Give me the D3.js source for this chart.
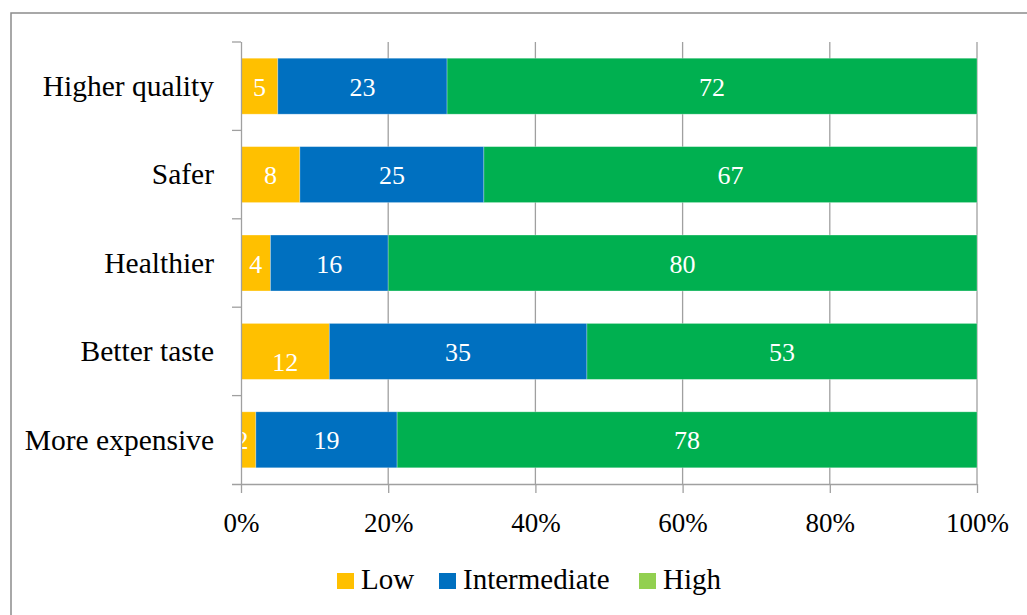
<!DOCTYPE html>
<html>
<head>
<meta charset="utf-8">
<script src="https://cdn.jsdelivr.net/npm/d3@7"></script>
<style>
  html, body { margin: 0; padding: 0; background: #fff; }
  svg { display: block; }
  text { font-family: "Liberation Serif", "Times New Roman", serif; }
</style>
</head>
<body>
<svg id="chart" width="1027" height="615"></svg>
<script>
// Share of respondents rating each attribute (percent)
const categories = ["Higher quality", "Safer", "Healthier", "Better taste", "More expensive"];
const seriesNames = ["Low", "Intermediate", "High"];
const lowValues = [5, 8, 4, 12, 2];
const intermediateValues = [23, 25, 16, 35, 19];
const highValues = [72, 67, 80, 53, 78];
const tickValues = [0, 0.2, 0.4, 0.6, 0.8, 1.0];

const barColors = ["#FFC000", "#0070C0", "#00B050"];
const legendColors = ["#FFC000", "#0070C0", "#92D050"];

const rows = categories.map((c, i) => ({
  category: c,
  Low: lowValues[i],
  Intermediate: intermediateValues[i],
  High: highValues[i]
}));

const svg = d3.select("#chart");
const W = 1027, H = 615;
const plot = { left: 241, right: 977, top: 42, bottom: 484 };

// outer frame
svg.append("rect")
  .attr("x", 11).attr("y", 13)
  .attr("width", W + 20).attr("height", H + 20)
  .attr("fill", "none").attr("stroke", "#8c8c8c").attr("stroke-width", 1.5);

const x = d3.scaleLinear().domain([0, 1]).range([plot.left, plot.right]);
const y = d3.scaleBand().domain(categories).range([plot.top, plot.bottom])
  .paddingInner(0.367).paddingOuter(0.1835);

// normalise each row to 100%
const stack = d3.stack().keys(seriesNames).offset(d3.stackOffsetExpand);
const layers = stack(rows);

// vertical gridlines
svg.append("g").selectAll("line")
  .data(tickValues.slice(1))
  .join("line")
  .attr("x1", d => x(d)).attr("x2", d => x(d))
  .attr("y1", plot.top).attr("y2", plot.bottom)
  .attr("stroke", "#a0a0a0").attr("stroke-width", 1.3);

// bars
const gBars = svg.append("g");
layers.forEach((layer, li) => {
  gBars.append("g").selectAll("rect")
    .data(layer)
    .join("rect")
    .attr("x", d => x(d[0]))
    .attr("y", d => y(d.data.category))
    .attr("width", d => x(d[1]) - x(d[0]))
    .attr("height", y.bandwidth())
    .attr("fill", barColors[li])
    .attr("stroke", "rgba(255,255,255,0.35)")
    .attr("stroke-width", 0.8);
});

// data labels, clipped to the plot area
svg.append("clipPath").attr("id", "plotClip")
  .append("rect")
  .attr("x", plot.left).attr("y", plot.top)
  .attr("width", plot.right - plot.left).attr("height", plot.bottom - plot.top);

const labelNudge = { "Better taste|Low": 10 };
const gLabels = svg.append("g").attr("clip-path", "url(#plotClip)");
layers.forEach((layer, li) => {
  const key = seriesNames[li];
  gLabels.append("g").selectAll("text")
    .data(layer)
    .join("text")
    .each(function (d) {
      const x0 = x(d[0]), x1 = x(d[1]);
      const cx = (x0 + x1) / 2;
      const t = d3.select(this)
        .attr("y", y(d.data.category) + y.bandwidth() / 2 + 9.5 + (labelNudge[d.data.category + "|" + key] || 0))
        .attr("fill", "#fff")
        .attr("font-size", 26)
        .text(d.data[key]);
      const w = this.getComputedTextLength();
      // labels too wide for their segment hang off to the left of its centre
      t.attr("x", cx).attr("text-anchor", w + 6 > x1 - x0 ? "end" : "middle");
    });
});

// axes
const xAxis = d3.axisBottom(x).tickValues(tickValues).tickSize(9).tickFormat(d3.format(".0%"));
const gx = svg.append("g").attr("transform", `translate(0,${plot.bottom})`).call(xAxis);
gx.select(".domain").attr("d", `M${plot.left - 9},0.5H${plot.right}`);
gx.selectAll(".domain, .tick line").attr("stroke", "#a0a0a0").attr("stroke-width", 1.3);
gx.selectAll(".tick text")
  .attr("y", 48).attr("dy", 0)
  .attr("fill", "#000")
  .attr("font-size", 27)
  .attr("font-family", "Liberation Serif, serif");

const yAxis = d3.axisLeft(y).tickSize(0).tickPadding(27);
const gy = svg.append("g").attr("transform", `translate(${plot.left},0)`).call(yAxis);
gy.select(".domain").attr("stroke", "#a0a0a0").attr("stroke-width", 1.3)
  .attr("d", `M0.5,${plot.top}V${plot.bottom}`);
gy.selectAll(".tick text")
  .attr("fill", "#000")
  .attr("font-size", 29.5)
  .attr("dy", "0.33em")
  .attr("font-family", "Liberation Serif, serif");

// category boundary ticks on the left axis
const bounds = d3.range(categories.length + 1).map(i => plot.top + i * (plot.bottom - plot.top) / categories.length);
svg.append("g").selectAll("line")
  .data(bounds.slice(0, -1))
  .join("line")
  .attr("x1", plot.left - 9).attr("x2", plot.left)
  .attr("y1", d => d).attr("y2", d => d)
  .attr("stroke", "#a0a0a0").attr("stroke-width", 1.3);

// legend
const legendX = [337, 439, 639];
const legend = svg.append("g");
seriesNames.forEach((name, i) => {
  legend.append("rect")
    .attr("x", legendX[i]).attr("y", 573)
    .attr("width", 17).attr("height", 16)
    .attr("fill", legendColors[i]);
  legend.append("text")
    .attr("x", legendX[i] + 24).attr("y", 589)
    .attr("font-size", 29)
    .attr("fill", "#000")
    .text(name);
});
</script>
</body>
</html>
